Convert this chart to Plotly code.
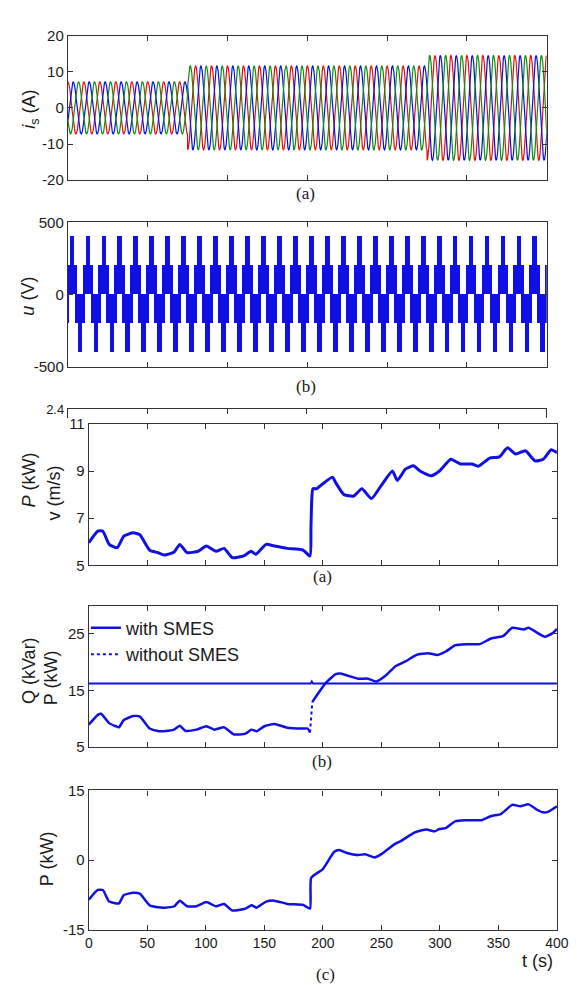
import numpy as np
import plotly.graph_objects as go

# ---------------- data ----------------
# (a) stator currents: three-phase, amplitude changes at switch times
is_freq_hz = 50
is_t_end = 0.6
is_switch_times = [0.0, 0.15, 0.45]
is_amplitudes = [7.2, 11.6, 14.5]
is_phase_names = ["a", "b", "c"]
is_phase_shift_deg = [0, -120, -240]
is_ticks = [-20, -10, 0, 10, 20]

# (b) multilevel inverter voltage: level bands and their on-fraction of each period
u_freq_hz = 50
u_band_low = [0, 200]
u_band_high = [200, 400]
u_band_fraction = [0.68, 0.30]
u_ticks = [-500, 0, 500]

# (a) lower figure: P (kW) / wind speed
t_v = [0, 7.7, 12, 17.4, 24.3, 29.9, 38, 43.6, 52, 59, 64.6, 73, 77.7, 84, 93.4, 100.4, 108.7, 115.6,
       122.5, 132.3, 138.7, 142.6, 151.5, 158.5, 169.6, 183, 189, 189.8, 190.5, 191.5, 194.6, 200, 208.3,
       211, 218, 226.4, 233.3, 241.5, 249.8, 259.4, 263.6, 270.5, 277.4, 283, 292.6, 299.6, 309.3, 317.6,
       327.3, 332.8, 342.5, 350.8, 357.7, 364.7, 373, 381.3, 388.2, 395.1, 400]
v_wind = [5.96, 6.45, 6.45, 5.89, 5.75, 6.24, 6.38, 6.3, 5.64, 5.54, 5.44, 5.57, 5.89, 5.54, 5.6, 5.82, 5.6,
          5.72, 5.33, 5.4, 5.6, 5.47, 5.89, 5.82, 5.72, 5.65, 5.4, 6.6, 7.8, 8.25, 8.25, 8.46, 8.74, 8.5, 8.0,
          7.94, 8.25, 7.83, 8.38, 9.0, 8.6, 9.08, 9.22, 9.0, 8.8, 9.0, 9.5, 9.3, 9.3, 9.2, 9.55, 9.6, 9.99,
          9.72, 9.86, 9.43, 9.5, 9.9, 9.78]

# (b) lower figure: P and Q with / without SMES
t_p_before = [0, 7.7, 10.5, 17.4, 23, 25.7, 29.9, 38, 43.6, 52, 59, 65.7, 72.7, 77.7, 82.4, 92, 100.4, 107.3,
              115.6, 124, 133.8, 139, 143.4, 150, 158.5, 169.6, 183, 187, 189]
p_before = [8.97, 10.7, 10.9, 9.25, 8.7, 8.5, 9.8, 10.5, 10.4, 8.3, 7.85, 7.85, 8.1, 8.8, 7.9, 8.1, 8.7, 8.1,
            8.5, 7.25, 7.4, 8.1, 7.8, 8.7, 9.1, 8.45, 8.3, 8.3, 7.6]
t_p_after = [191, 202.7, 211, 215, 230, 238.6, 245.6, 254, 262, 271, 280, 289.8, 298, 305, 313, 323, 334,
             343.7, 353.8, 361.8, 371.7, 375.7, 384, 389.5, 396, 400]
p_after = [13.0, 16.4, 17.9, 18.0, 17.1, 17.1, 16.6, 17.7, 19.3, 20.2, 21.3, 21.6, 21.3, 21.9, 23.0, 23.2,
           23.2, 24.2, 24.6, 26.1, 25.8, 26.1, 25.1, 24.5, 25.1, 25.9]
t_q = [0, 189.5, 190.5, 191.5, 400]
q_vals = [16.26, 16.26, 16.6, 16.26, 16.26]

# (c) P (kW)
t_c = [0, 7.7, 12, 17.4, 25.7, 29.9, 38, 43.6, 52, 59, 64.6, 73, 77.7, 84, 92, 100.4, 108.7, 115.6, 122.5,
       133.8, 139, 143.4, 151.5, 158.5, 169.6, 183, 189, 190, 200, 209.7, 214, 220, 230.4, 236, 244.2, 250,
       261, 266.5, 278.8, 288.5, 295.5, 299.6, 305, 313.4, 321.7, 335.6, 343.9, 352, 361.8, 368.7, 375.7,
       382.6, 388, 392.2, 400]
p_c = [-8.5, -6.4, -6.4, -8.9, -9.3, -7.5, -7.0, -7.2, -9.7, -10.1, -10.2, -9.9, -8.7, -9.9, -9.9, -9.0,
       -9.9, -9.4, -10.8, -10.4, -9.7, -10.2, -8.9, -8.7, -9.4, -9.6, -10.4, -3.8, -1.9, 1.8, 2.2, 1.6, 1.1,
       1.3, 0.6, 1.3, 3.4, 4.1, 6.0, 6.6, 6.2, 6.7, 6.9, 8.4, 8.6, 8.6, 9.5, 9.9, 11.9, 11.6, 12.0, 10.9,
       10.3, 10.4, 11.6]
c_ticks = [-15, 0, 15]

x_ticks_bottom = [0, 50, 100, 150, 200, 250, 300, 350, 400]

# ---------------- figure ----------------
W, H = 577, 985
def xd(px): return px / W
def yd(py): return 1 - py / H
def lbl(vals): return [str(v) for v in vals]

BLUE = "#1010e6"
PHASE_COLORS = ["#e01010", "#0010e8", "#108a10"]
AX = "#333333"
FONT = "Liberation Sans, Arial, sans-serif"
SERIF = "Liberation Serif, Times New Roman, serif"

fig = go.Figure()

# panel 1: currents
t = np.linspace(0, is_t_end, 6001)
seg = np.searchsorted(is_switch_times, t, side="right") - 1
amp = np.array(is_amplitudes)[seg]
w = 2 * np.pi * is_freq_hz
for name, sh, col in zip(is_phase_names, is_phase_shift_deg, PHASE_COLORS):
    fig.add_trace(go.Scatter(x=t, y=amp * np.cos(w * t + np.deg2rad(sh)), mode="lines",
                             line=dict(color=col, width=1.2), showlegend=False,
                             xaxis="x", yaxis="y", name="i_" + name))

# panel 2: multilevel voltage blocks
T = 1 / u_freq_hz
n_per = int(round(is_t_end / T))
cx, base, height, width = [], [], [], []
for k in range(-1, n_per + 1):
    for sign, off in ((1, 0.25), (-1, 0.75)):
        c = (k + off) * T
        for lo, hi, fr in zip(u_band_low, u_band_high, u_band_fraction):
            cx.append(c)
            base.append(lo if sign > 0 else -hi)
            height.append(hi - lo)
            width.append(fr * T)
fig.add_trace(go.Bar(x=cx, y=height, base=base, width=width, marker=dict(color=BLUE, line=dict(width=0)),
                     showlegend=False, xaxis="x2", yaxis="y2", name="u"))

# invisible anchor trace for the partly hidden frame of the previous axes
fig.add_trace(go.Scatter(x=[0], y=[0], mode="markers", marker=dict(opacity=0), hoverinfo="skip",
                         showlegend=False, xaxis="x3", yaxis="y3"))

SPL = dict(shape="spline", smoothing=0.5)

# panel 3: P / wind speed
fig.add_trace(go.Scatter(x=t_v, y=v_wind, mode="lines", line=dict(color=BLUE, width=3, **SPL),
                         showlegend=False, xaxis="x4", yaxis="y4"))

# panel 4: P with / without SMES, Q
fig.add_trace(go.Scatter(x=t_p_before + [None] + t_p_after, y=p_before + [None] + p_after, mode="lines",
                         line=dict(color=BLUE, width=2.5, **SPL), name="with SMES", xaxis="x5", yaxis="y5"))
fig.add_trace(go.Scatter(x=[t_p_before[-1], t_p_after[0]], y=[p_before[-1], p_after[0]], mode="lines",
                         line=dict(color=BLUE, width=2, dash="dot"), name="without SMES",
                         xaxis="x5", yaxis="y5"))
fig.add_trace(go.Scatter(x=t_q, y=q_vals, mode="lines", line=dict(color=BLUE, width=2),
                         showlegend=False, xaxis="x5", yaxis="y5"))

# panel 5
fig.add_trace(go.Scatter(x=t_c, y=p_c, mode="lines", line=dict(color=BLUE, width=2.5, **SPL),
                         showlegend=False, xaxis="x6", yaxis="y6"))

base_ax = dict(showline=True, linecolor=AX, linewidth=1.2, ticks="inside", ticklen=5, tickcolor=AX,
               tickwidth=1, showgrid=False, zeroline=False, mirror="ticks",
               tickfont=dict(family=FONT, size=15, color="#1a1a1a"))

x_top = [xd(57.5), xd(550)]
x_bot = [xd(79), xd(560.5)]

layout = dict(
    width=W, height=H, margin=dict(l=0, r=0, t=0, b=0),
    paper_bgcolor="white", plot_bgcolor="white", barmode="overlay", bargap=0,
    xaxis=dict(base_ax, domain=x_top, range=[0, is_t_end], tickvals=[0.1, 0.2, 0.3, 0.4, 0.5],
               showticklabels=False, anchor="y"),
    yaxis=dict(base_ax, domain=[yd(166), yd(19)], range=[-20, 20], tickvals=is_ticks,
               ticktext=lbl(is_ticks), anchor="x"),
    xaxis2=dict(base_ax, domain=x_top, range=[0, is_t_end], tickvals=[0.1, 0.2, 0.3, 0.4, 0.5],
                showticklabels=False, anchor="y2"),
    yaxis2=dict(base_ax, domain=[yd(356), yd(209)], range=[-500, 500], tickvals=u_ticks,
                ticktext=lbl(u_ticks), anchor="x2"),
    # partially hidden frame of a previous axes
    xaxis3=dict(base_ax, domain=[xd(57.5), xd(549)], range=[0, 6], tickvals=[1, 2, 3, 4, 5],
                showticklabels=False, side="top", mirror=False, anchor="y3"),
    yaxis3=dict(base_ax, domain=[yd(408), yd(399)], range=[0, 2.4], tickvals=[2.4], ticktext=["2.4"],
                ticks="", mirror=True, anchor="x3",
                tickfont=dict(family=FONT, size=13, color="#1a1a1a")),
    xaxis4=dict(base_ax, domain=x_bot, range=[0, 400], tickvals=x_ticks_bottom, showticklabels=False,
                anchor="y4"),
    yaxis4=dict(base_ax, domain=[yd(558), yd(414)], range=[5, 11], tickvals=[5, 7, 9, 11], anchor="x4"),
    xaxis5=dict(base_ax, domain=x_bot, range=[0, 400], tickvals=x_ticks_bottom, showticklabels=False,
                anchor="y5"),
    yaxis5=dict(base_ax, domain=[yd(743), yd(599)], range=[5, 30], tickvals=[5, 15, 25], anchor="x5"),
    xaxis6=dict(base_ax, domain=x_bot, range=[0, 400], tickvals=x_ticks_bottom, anchor="y6",
                tickfont=dict(family=FONT, size=14, color="#1a1a1a")),
    yaxis6=dict(base_ax, domain=[yd(929), yd(787)], range=[-15, 15], tickvals=c_ticks,
                ticktext=lbl(c_ticks), anchor="x6"),
    legend=dict(x=xd(76), y=yd(603), xanchor="left", yanchor="top", bgcolor="rgba(0,0,0,0)",
                font=dict(family=FONT, size=18, color="#1a1a1a"), tracegroupgap=0, itemwidth=30,
                borderwidth=0),
    showlegend=True,
)
fig.update_layout(**layout)

def ann(text, px, py, size=18, font=FONT, angle=0):
    fig.add_annotation(text=text, x=xd(px), y=yd(py), xref="paper", yref="paper", showarrow=False,
                       xanchor="center", yanchor="middle", textangle=angle,
                       font=dict(family=font, size=size, color="#1a1a1a"))

ann("<i>i</i><sub>s</sub> (A)", 19, 94, angle=-90)
ann("<i>u</i> (V)", 17, 284, angle=-90)
ann("<i>P</i> (kW)", 17, 471, angle=-90)
ann("v (m/s)", 43, 484, angle=-90)
ann("Q (kVar)", 17, 665, angle=-90)
ann("P (kW)", 41, 672, angle=-90)
ann("P (kW)", 36, 857, angle=-90)
ann("t (s)", 540, 961)
ann("(a)", 302, 180, size=17, font=SERIF)
ann("(b)", 302, 376, size=17, font=SERIF)
ann("(a)", 319, 569, size=17, font=SERIF)
ann("(b)", 319, 758, size=17, font=SERIF)
ann("(c)", 322, 974, size=17, font=SERIF)

fig.write_html("out.html")
